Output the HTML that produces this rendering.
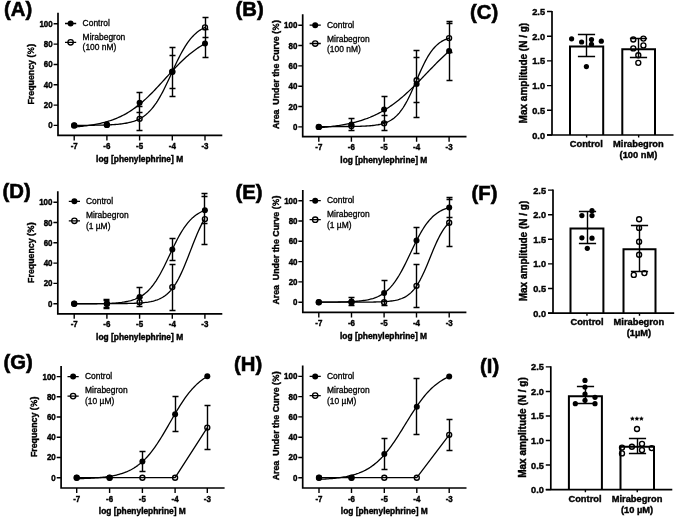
<!DOCTYPE html>
<html><head><meta charset="utf-8"><style>
html,body{margin:0;padding:0;background:#fff;}
body{width:676px;height:518px;overflow:hidden;}
svg{display:block;will-change:transform;}
text{font-family:"Liberation Sans", sans-serif;fill:#000;font-weight:bold;stroke:#000;stroke-width:0.4px;}
.pl{font-size:20.3px;}
.tl{font-size:8.4px;}
.tlb{font-size:9.2px;}
.al{font-size:8.4px;}
.aly{font-size:8.8px;}
.alb{font-size:10.0px;}
.bl{font-size:9.3px;}
.lt{font-size:8.45px;}
.st{font-size:8.0px;}
.lt{font-weight:normal;stroke-width:0.3px;}
.pl{stroke-width:0.6px;}
.pc{fill-opacity:0;stroke-opacity:0;}
.ax{fill:none;stroke:#000;stroke-width:1.7;}
.tk{fill:none;stroke:#000;stroke-width:1.4;}
.cv{fill:none;stroke:#000;stroke-width:1.3;stroke-linejoin:round;}
.eb{fill:none;stroke:#000;stroke-width:1.4;}
.lg{fill:none;stroke:#000;stroke-width:1.3;}
.bar{fill:none;stroke:#000;stroke-width:2.0;}
.cf{fill:#000;stroke:none;}
.co{fill:none;stroke:#000;stroke-width:1.35;}
</style></head><body>
<svg width="676" height="518" viewBox="0 0 676 518">
<rect width="676" height="518" fill="#fff"/>
<text transform="translate(4.00 15.70)" class="pl">(A)</text>
<path d="M58.0 12.8V135.4M57.15 135.4H222.3" class="ax"/>
<text transform="translate(52.70 128.40) scale(0.95 1.0)" class="tl" text-anchor="end">0</text>
<text transform="translate(52.70 108.08) scale(0.95 1.0)" class="tl" text-anchor="end">20</text>
<text transform="translate(52.70 87.76) scale(0.95 1.0)" class="tl" text-anchor="end">40</text>
<text transform="translate(52.70 67.44) scale(0.95 1.0)" class="tl" text-anchor="end">60</text>
<text transform="translate(52.70 47.12) scale(0.95 1.0)" class="tl" text-anchor="end">80</text>
<text transform="translate(52.70 26.80) scale(0.95 1.0)" class="tl" text-anchor="end">100</text>
<text transform="translate(74.20 149.00) scale(0.95 1.0)" class="tl" text-anchor="middle">-7</text>
<text transform="translate(106.90 149.00) scale(0.95 1.0)" class="tl" text-anchor="middle">-6</text>
<text transform="translate(139.60 149.00) scale(0.95 1.0)" class="tl" text-anchor="middle">-5</text>
<text transform="translate(172.30 149.00) scale(0.95 1.0)" class="tl" text-anchor="middle">-4</text>
<text transform="translate(205.00 149.00) scale(0.95 1.0)" class="tl" text-anchor="middle">-3</text>
<path d="M53.60 125.40H58.0 M53.60 105.08H58.0 M53.60 84.76H58.0 M53.60 64.44H58.0 M53.60 44.12H58.0 M53.60 23.80H58.0 M74.20 135.4V140.40 M106.90 135.4V140.40 M139.60 135.4V140.40 M172.30 135.4V140.40 M205.00 135.4V140.40" class="tk"/>
<text transform="translate(96.10 161.50)" class="al">log [phenylephrine] M</text>
<text transform="translate(33.90 74.20) rotate(-90)" class="aly" text-anchor="middle">Frequency (<tspan class="pc">%</tspan>)</text>
<g transform="translate(33.90 74.20) rotate(-90)" fill="none" stroke="#000" stroke-width="1.10"><ellipse cx="21.63" cy="-4.62" rx="1.14" ry="1.41"/><ellipse cx="25.33" cy="-1.54" rx="1.14" ry="1.41"/><path d="M21.06 0.09L25.90 -6.16"/></g>
<path d="M65.0 23.5H76.19999999999999M65.0 42.3H76.19999999999999" class="lg"/>
<circle cx="70.6" cy="23.5" r="3.0" class="cf"/>
<circle cx="70.6" cy="42.3" r="2.7" class="co"/>
<text transform="translate(82.60 26.10)" class="lt">Control</text>
<text transform="translate(82.60 39.90)" class="lt">Mirabegron</text>
<text transform="translate(82.60 50.00)" class="lt">(100 nM)</text>
<path d="M74.20 125.36 L75.52 125.35 L76.84 125.35 L78.16 125.35 L79.48 125.34 L80.81 125.34 L82.13 125.33 L83.45 125.32 L84.77 125.32 L86.09 125.31 L87.41 125.30 L88.73 125.29 L90.05 125.28 L91.38 125.26 L92.70 125.25 L94.02 125.23 L95.34 125.22 L96.66 125.20 L97.98 125.18 L99.30 125.15 L100.62 125.12 L101.95 125.09 L103.27 125.06 L104.59 125.02 L105.91 124.98 L107.23 124.93 L108.55 124.88 L109.87 124.82 L111.19 124.75 L112.52 124.67 L113.84 124.59 L115.16 124.50 L116.48 124.39 L117.80 124.28 L119.12 124.15 L120.44 124.01 L121.76 123.85 L123.08 123.67 L124.41 123.47 L125.73 123.25 L127.05 123.00 L128.37 122.73 L129.69 122.42 L131.01 122.08 L132.33 121.71 L133.65 121.29 L134.98 120.83 L136.30 120.32 L137.62 119.75 L138.94 119.13 L140.26 118.44 L141.58 117.68 L142.90 116.84 L144.22 115.93 L145.55 114.92 L146.87 113.83 L148.19 112.63 L149.51 111.33 L150.83 109.92 L152.15 108.39 L153.47 106.74 L154.79 104.98 L156.12 103.08 L157.44 101.07 L158.76 98.93 L160.08 96.67 L161.40 94.30 L162.72 91.82 L164.04 89.23 L165.36 86.56 L166.68 83.82 L168.01 81.01 L169.33 78.15 L170.65 75.27 L171.97 72.38 L173.29 69.49 L174.61 66.63 L175.93 63.81 L177.25 61.04 L178.58 58.35 L179.90 55.75 L181.22 53.24 L182.54 50.84 L183.86 48.56 L185.18 46.39 L186.50 44.35 L187.82 42.42 L189.15 40.63 L190.47 38.95 L191.79 37.40 L193.11 35.96 L194.43 34.63 L195.75 33.41 L197.07 32.29 L198.39 31.27 L199.72 30.33 L201.04 29.48 L202.36 28.70 L203.68 28.00 L205.00 27.36" class="cv"/>
<path d="M74.20 126.99 L75.52 126.89 L76.84 126.78 L78.16 126.66 L79.48 126.54 L80.81 126.41 L82.13 126.27 L83.45 126.12 L84.77 125.97 L86.09 125.81 L87.41 125.64 L88.73 125.45 L90.05 125.26 L91.38 125.06 L92.70 124.85 L94.02 124.62 L95.34 124.38 L96.66 124.13 L97.98 123.87 L99.30 123.59 L100.62 123.29 L101.95 122.98 L103.27 122.66 L104.59 122.31 L105.91 121.95 L107.23 121.57 L108.55 121.17 L109.87 120.75 L111.19 120.31 L112.52 119.85 L113.84 119.36 L115.16 118.85 L116.48 118.32 L117.80 117.76 L119.12 117.17 L120.44 116.56 L121.76 115.92 L123.08 115.25 L124.41 114.55 L125.73 113.83 L127.05 113.07 L128.37 112.28 L129.69 111.46 L131.01 110.61 L132.33 109.73 L133.65 108.81 L134.98 107.86 L136.30 106.88 L137.62 105.86 L138.94 104.82 L140.26 103.74 L141.58 102.63 L142.90 101.48 L144.22 100.31 L145.55 99.11 L146.87 97.87 L148.19 96.61 L149.51 95.33 L150.83 94.02 L152.15 92.68 L153.47 91.33 L154.79 89.95 L156.12 88.56 L157.44 87.15 L158.76 85.72 L160.08 84.29 L161.40 82.85 L162.72 81.40 L164.04 79.94 L165.36 78.49 L166.68 77.03 L168.01 75.58 L169.33 74.14 L170.65 72.70 L171.97 71.27 L173.29 69.86 L174.61 68.46 L175.93 67.08 L177.25 65.71 L178.58 64.37 L179.90 63.05 L181.22 61.76 L182.54 60.49 L183.86 59.25 L185.18 58.04 L186.50 56.85 L187.82 55.70 L189.15 54.58 L190.47 53.49 L191.79 52.43 L193.11 51.40 L194.43 50.41 L195.75 49.45 L197.07 48.52 L198.39 47.63 L199.72 46.77 L201.04 45.94 L202.36 45.14 L203.68 44.37 L205.00 43.63" class="cv"/>
<path d="M139.50 106.50V130.50M136.50 106.50H142.50M136.50 130.50H142.50 M172.50 55.50V88.50M169.50 55.50H175.50M169.50 88.50H175.50 M205.50 17.50V37.50M202.50 17.50H208.50M202.50 37.50H208.50 M139.50 92.50V112.50M136.50 92.50H142.50M136.50 112.50H142.50 M172.50 47.50V96.50M169.50 47.50H175.50M169.50 96.50H175.50 M205.50 29.50V57.50M202.50 29.50H208.50M202.50 57.50H208.50" class="eb"/>
<circle cx="74.20" cy="125.40" r="2.5" class="co"/>
<circle cx="106.90" cy="124.89" r="2.5" class="co"/>
<circle cx="139.60" cy="118.80" r="2.5" class="co"/>
<circle cx="172.30" cy="71.65" r="2.5" class="co"/>
<circle cx="205.00" cy="27.36" r="2.5" class="co"/>
<circle cx="74.20" cy="125.40" r="3.0" class="cf"/>
<circle cx="106.90" cy="124.38" r="3.0" class="cf"/>
<circle cx="139.60" cy="102.64" r="3.0" class="cf"/>
<circle cx="172.30" cy="71.65" r="3.0" class="cf"/>
<circle cx="205.00" cy="43.41" r="3.0" class="cf"/>
<text transform="translate(235.50 16.00)" class="pl">(B)</text>
<path d="M302.7 14.2V136.7M301.84999999999997 136.7H466.5" class="ax"/>
<text transform="translate(297.40 129.90) scale(0.95 1.0)" class="tl" text-anchor="end">0</text>
<text transform="translate(297.40 109.56) scale(0.95 1.0)" class="tl" text-anchor="end">20</text>
<text transform="translate(297.40 89.22) scale(0.95 1.0)" class="tl" text-anchor="end">40</text>
<text transform="translate(297.40 68.88) scale(0.95 1.0)" class="tl" text-anchor="end">60</text>
<text transform="translate(297.40 48.54) scale(0.95 1.0)" class="tl" text-anchor="end">80</text>
<text transform="translate(297.40 28.20) scale(0.95 1.0)" class="tl" text-anchor="end">100</text>
<text transform="translate(318.80 150.30) scale(0.95 1.0)" class="tl" text-anchor="middle">-7</text>
<text transform="translate(351.40 150.30) scale(0.95 1.0)" class="tl" text-anchor="middle">-6</text>
<text transform="translate(384.10 150.30) scale(0.95 1.0)" class="tl" text-anchor="middle">-5</text>
<text transform="translate(416.60 150.30) scale(0.95 1.0)" class="tl" text-anchor="middle">-4</text>
<text transform="translate(449.10 150.30) scale(0.95 1.0)" class="tl" text-anchor="middle">-3</text>
<path d="M298.30 126.90H302.7 M298.30 106.56H302.7 M298.30 86.22H302.7 M298.30 65.88H302.7 M298.30 45.54H302.7 M298.30 25.20H302.7 M318.80 136.7V141.70 M351.40 136.7V141.70 M384.10 136.7V141.70 M416.60 136.7V141.70 M449.10 136.7V141.70" class="tk"/>
<text transform="translate(340.30 163.00)" class="al">log [phenylephrine] M</text>
<text transform="translate(278.90 74.60) rotate(-90)" class="aly" text-anchor="middle">Area  Under the Curve (<tspan class="pc">%</tspan>)</text>
<g transform="translate(278.90 74.60) rotate(-90)" fill="none" stroke="#000" stroke-width="1.10"><ellipse cx="45.84" cy="-4.62" rx="1.14" ry="1.41"/><ellipse cx="49.53" cy="-1.54" rx="1.14" ry="1.41"/><path d="M45.26 0.09L50.10 -6.16"/></g>
<path d="M309.59999999999997 25.2H320.8M309.59999999999997 43.5H320.8" class="lg"/>
<circle cx="315.2" cy="25.2" r="3.0" class="cf"/>
<circle cx="315.2" cy="43.5" r="2.7" class="co"/>
<text transform="translate(327.00 28.00)" class="lt">Control</text>
<text transform="translate(327.00 41.60)" class="lt">Mirabegron</text>
<text transform="translate(327.00 51.80)" class="lt">(100 nM)</text>
<path d="M318.84 126.56 L320.16 126.56 L321.47 126.56 L322.79 126.56 L324.11 126.56 L325.42 126.56 L326.74 126.56 L328.05 126.56 L329.37 126.56 L330.69 126.55 L332.00 126.55 L333.32 126.55 L334.64 126.55 L335.95 126.54 L337.27 126.54 L338.59 126.54 L339.90 126.53 L341.22 126.53 L342.53 126.52 L343.85 126.51 L345.17 126.50 L346.48 126.50 L347.80 126.48 L349.12 126.47 L350.43 126.46 L351.75 126.44 L353.07 126.43 L354.38 126.40 L355.70 126.38 L357.01 126.35 L358.33 126.32 L359.65 126.29 L360.96 126.25 L362.28 126.20 L363.60 126.15 L364.91 126.09 L366.23 126.02 L367.55 125.94 L368.86 125.85 L370.18 125.75 L371.49 125.64 L372.81 125.50 L374.13 125.35 L375.44 125.18 L376.76 124.98 L378.08 124.76 L379.39 124.51 L380.71 124.22 L382.03 123.89 L383.34 123.52 L384.66 123.10 L385.97 122.62 L387.29 122.08 L388.61 121.47 L389.92 120.78 L391.24 120.01 L392.56 119.14 L393.87 118.17 L395.19 117.09 L396.51 115.88 L397.82 114.55 L399.14 113.08 L400.45 111.46 L401.77 109.68 L403.09 107.75 L404.40 105.67 L405.72 103.42 L407.04 101.02 L408.35 98.47 L409.67 95.79 L410.99 92.99 L412.30 90.09 L413.62 87.10 L414.93 84.06 L416.25 80.99 L417.57 77.92 L418.88 74.87 L420.20 71.88 L421.52 68.96 L422.83 66.15 L424.15 63.45 L425.47 60.88 L426.78 58.46 L428.10 56.20 L429.41 54.09 L430.73 52.14 L432.05 50.35 L433.36 48.71 L434.68 47.22 L436.00 45.86 L437.31 44.64 L438.63 43.54 L439.95 42.56 L441.26 41.68 L442.58 40.90 L443.89 40.20 L445.21 39.58 L446.53 39.03 L447.84 38.54 L449.16 38.12" class="cv"/>
<path d="M318.84 127.68 L320.16 127.58 L321.47 127.48 L322.79 127.36 L324.11 127.25 L325.42 127.12 L326.74 126.99 L328.05 126.86 L329.37 126.72 L330.69 126.57 L332.00 126.42 L333.32 126.26 L334.64 126.09 L335.95 125.91 L337.27 125.72 L338.59 125.53 L339.90 125.33 L341.22 125.12 L342.53 124.89 L343.85 124.66 L345.17 124.42 L346.48 124.17 L347.80 123.90 L349.12 123.63 L350.43 123.34 L351.75 123.04 L353.07 122.73 L354.38 122.40 L355.70 122.06 L357.01 121.70 L358.33 121.33 L359.65 120.94 L360.96 120.54 L362.28 120.12 L363.60 119.68 L364.91 119.23 L366.23 118.76 L367.55 118.27 L368.86 117.76 L370.18 117.23 L371.49 116.67 L372.81 116.10 L374.13 115.51 L375.44 114.89 L376.76 114.26 L378.08 113.60 L379.39 112.91 L380.71 112.21 L382.03 111.48 L383.34 110.72 L384.66 109.94 L385.97 109.13 L387.29 108.30 L388.61 107.45 L389.92 106.57 L391.24 105.66 L392.56 104.73 L393.87 103.77 L395.19 102.79 L396.51 101.78 L397.82 100.75 L399.14 99.69 L400.45 98.61 L401.77 97.50 L403.09 96.37 L404.40 95.22 L405.72 94.05 L407.04 92.85 L408.35 91.64 L409.67 90.40 L410.99 89.15 L412.30 87.88 L413.62 86.60 L414.93 85.30 L416.25 83.98 L417.57 82.66 L418.88 81.32 L420.20 79.97 L421.52 78.62 L422.83 77.26 L424.15 75.89 L425.47 74.52 L426.78 73.15 L428.10 71.78 L429.41 70.41 L430.73 69.05 L432.05 67.69 L433.36 66.34 L434.68 64.99 L436.00 63.65 L437.31 62.33 L438.63 61.01 L439.95 59.72 L441.26 58.43 L442.58 57.16 L443.89 55.91 L445.21 54.68 L446.53 53.46 L447.84 52.27 L449.16 51.10" class="cv"/>
<path d="M384.50 115.50V130.50M381.50 115.50H387.50M381.50 130.50H387.50 M416.50 57.50V102.50M413.50 57.50H419.50M413.50 102.50H419.50 M449.50 23.50V52.50M446.50 23.50H452.50M446.50 52.50H452.50 M351.50 118.50V130.50M348.50 118.50H354.50M348.50 130.50H354.50 M384.50 96.50V122.50M381.50 96.50H387.50M381.50 122.50H387.50 M416.50 50.50V117.50M413.50 50.50H419.50M413.50 117.50H419.50 M449.50 21.50V80.50M446.50 21.50H452.50M446.50 80.50H452.50" class="eb"/>
<circle cx="318.80" cy="126.90" r="2.5" class="co"/>
<circle cx="351.40" cy="126.09" r="2.5" class="co"/>
<circle cx="384.10" cy="123.34" r="2.5" class="co"/>
<circle cx="416.60" cy="80.22" r="2.5" class="co"/>
<circle cx="449.10" cy="38.12" r="2.5" class="co"/>
<circle cx="318.80" cy="126.90" r="3.0" class="cf"/>
<circle cx="351.40" cy="124.56" r="3.0" class="cf"/>
<circle cx="384.10" cy="109.41" r="3.0" class="cf"/>
<circle cx="416.60" cy="83.98" r="3.0" class="cf"/>
<circle cx="449.10" cy="51.03" r="3.0" class="cf"/>
<text transform="translate(2.50 197.50)" class="pl">(D)</text>
<path d="M57.8 191.3V313.8M56.949999999999996 313.8H222.3" class="ax"/>
<text transform="translate(52.50 306.70) scale(0.95 1.0)" class="tl" text-anchor="end">0</text>
<text transform="translate(52.50 286.40) scale(0.95 1.0)" class="tl" text-anchor="end">20</text>
<text transform="translate(52.50 266.10) scale(0.95 1.0)" class="tl" text-anchor="end">40</text>
<text transform="translate(52.50 245.80) scale(0.95 1.0)" class="tl" text-anchor="end">60</text>
<text transform="translate(52.50 225.50) scale(0.95 1.0)" class="tl" text-anchor="end">80</text>
<text transform="translate(52.50 205.20) scale(0.95 1.0)" class="tl" text-anchor="end">100</text>
<text transform="translate(74.20 327.40) scale(0.95 1.0)" class="tl" text-anchor="middle">-7</text>
<text transform="translate(106.90 327.40) scale(0.95 1.0)" class="tl" text-anchor="middle">-6</text>
<text transform="translate(139.60 327.40) scale(0.95 1.0)" class="tl" text-anchor="middle">-5</text>
<text transform="translate(172.30 327.40) scale(0.95 1.0)" class="tl" text-anchor="middle">-4</text>
<text transform="translate(204.90 327.40) scale(0.95 1.0)" class="tl" text-anchor="middle">-3</text>
<path d="M53.40 303.70H57.8 M53.40 283.40H57.8 M53.40 263.10H57.8 M53.40 242.80H57.8 M53.40 222.50H57.8 M53.40 202.20H57.8 M74.20 313.8V318.80 M106.90 313.8V318.80 M139.60 313.8V318.80 M172.30 313.8V318.80 M204.90 313.8V318.80" class="tk"/>
<text transform="translate(96.10 339.80)" class="al">log [phenylephrine] M</text>
<text transform="translate(33.90 252.60) rotate(-90)" class="aly" text-anchor="middle">Frequency (<tspan class="pc">%</tspan>)</text>
<g transform="translate(33.90 252.60) rotate(-90)" fill="none" stroke="#000" stroke-width="1.10"><ellipse cx="21.63" cy="-4.62" rx="1.14" ry="1.41"/><ellipse cx="25.33" cy="-1.54" rx="1.14" ry="1.41"/><path d="M21.06 0.09L25.90 -6.16"/></g>
<path d="M68.80000000000001 201.3H80.0M68.80000000000001 220.8H80.0" class="lg"/>
<circle cx="74.4" cy="201.3" r="3.0" class="cf"/>
<circle cx="74.4" cy="220.8" r="2.7" class="co"/>
<text transform="translate(85.90 204.00)" class="lt">Control</text>
<text transform="translate(85.90 217.90)" class="lt">Mirabegron</text>
<text transform="translate(85.90 229.00)" class="lt">(1 µM)</text>
<path d="M74.22 303.70 L75.54 303.70 L76.86 303.70 L78.18 303.70 L79.50 303.70 L80.82 303.70 L82.14 303.70 L83.46 303.70 L84.78 303.70 L86.10 303.70 L87.42 303.70 L88.74 303.70 L90.06 303.69 L91.39 303.69 L92.71 303.69 L94.03 303.69 L95.35 303.69 L96.67 303.69 L97.99 303.69 L99.31 303.69 L100.63 303.68 L101.95 303.68 L103.27 303.68 L104.59 303.68 L105.91 303.67 L107.23 303.67 L108.55 303.67 L109.87 303.66 L111.19 303.66 L112.51 303.65 L113.83 303.64 L115.15 303.64 L116.47 303.63 L117.79 303.62 L119.11 303.61 L120.43 303.59 L121.75 303.58 L123.07 303.56 L124.40 303.54 L125.72 303.52 L127.04 303.50 L128.36 303.47 L129.68 303.44 L131.00 303.40 L132.32 303.36 L133.64 303.31 L134.96 303.26 L136.28 303.20 L137.60 303.13 L138.92 303.05 L140.24 302.96 L141.56 302.85 L142.88 302.74 L144.20 302.60 L145.52 302.45 L146.84 302.28 L148.16 302.09 L149.48 301.87 L150.80 301.62 L152.12 301.33 L153.44 301.01 L154.76 300.65 L156.09 300.24 L157.41 299.78 L158.73 299.25 L160.05 298.66 L161.37 298.00 L162.69 297.26 L164.01 296.42 L165.33 295.49 L166.65 294.45 L167.97 293.29 L169.29 292.00 L170.61 290.57 L171.93 289.00 L173.25 287.28 L174.57 285.39 L175.89 283.33 L177.21 281.10 L178.53 278.71 L179.85 276.14 L181.17 273.40 L182.49 270.51 L183.81 267.48 L185.13 264.32 L186.45 261.06 L187.77 257.71 L189.10 254.31 L190.42 250.87 L191.74 247.44 L193.06 244.04 L194.38 240.69 L195.70 237.43 L197.02 234.27 L198.34 231.25 L199.66 228.36 L200.98 225.63 L202.30 223.07 L203.62 220.67 L204.94 218.45" class="cv"/>
<path d="M74.22 303.89 L75.54 303.89 L76.86 303.88 L78.18 303.88 L79.50 303.88 L80.82 303.87 L82.14 303.87 L83.46 303.86 L84.78 303.85 L86.10 303.84 L87.42 303.84 L88.74 303.83 L90.06 303.82 L91.39 303.80 L92.71 303.79 L94.03 303.77 L95.35 303.76 L96.67 303.74 L97.99 303.72 L99.31 303.69 L100.63 303.66 L101.95 303.63 L103.27 303.60 L104.59 303.56 L105.91 303.52 L107.23 303.47 L108.55 303.42 L109.87 303.36 L111.19 303.29 L112.51 303.22 L113.83 303.13 L115.15 303.04 L116.47 302.93 L117.79 302.82 L119.11 302.69 L120.43 302.54 L121.75 302.38 L123.07 302.19 L124.40 301.99 L125.72 301.76 L127.04 301.51 L128.36 301.22 L129.68 300.91 L131.00 300.56 L132.32 300.17 L133.64 299.74 L134.96 299.26 L136.28 298.72 L137.60 298.13 L138.92 297.48 L140.24 296.76 L141.56 295.97 L142.88 295.10 L144.20 294.14 L145.52 293.09 L146.84 291.94 L148.16 290.69 L149.48 289.33 L150.80 287.86 L152.12 286.27 L153.44 284.56 L154.76 282.73 L156.09 280.78 L157.41 278.70 L158.73 276.51 L160.05 274.21 L161.37 271.79 L162.69 269.29 L164.01 266.69 L165.33 264.03 L166.65 261.31 L167.97 258.54 L169.29 255.76 L170.61 252.97 L171.93 250.19 L173.25 247.44 L174.57 244.73 L175.89 242.09 L177.21 239.53 L178.53 237.06 L179.85 234.69 L181.17 232.42 L182.49 230.27 L183.81 228.24 L185.13 226.34 L186.45 224.55 L187.77 222.89 L189.10 221.34 L190.42 219.91 L191.74 218.59 L193.06 217.38 L194.38 216.27 L195.70 215.26 L197.02 214.33 L198.34 213.49 L199.66 212.72 L200.98 212.03 L202.30 211.40 L203.62 210.83 L204.94 210.32" class="cv"/>
<path d="M106.50 300.50V307.50M103.50 300.50H109.50M103.50 307.50H109.50 M139.50 297.50V306.50M136.50 297.50H142.50M136.50 306.50H142.50 M172.50 264.50V310.50M169.50 264.50H175.50M169.50 310.50H175.50 M204.50 193.50V244.50M201.50 193.50H207.50M201.50 244.50H207.50 M106.50 299.50V308.50M103.50 299.50H109.50M103.50 308.50H109.50 M139.50 287.50V306.50M136.50 287.50H142.50M136.50 306.50H142.50 M172.50 238.50V260.50M169.50 238.50H175.50M169.50 260.50H175.50 M204.50 196.50V223.50M201.50 196.50H207.50M201.50 223.50H207.50" class="eb"/>
<circle cx="74.20" cy="303.70" r="2.5" class="co"/>
<circle cx="106.90" cy="303.70" r="2.5" class="co"/>
<circle cx="139.60" cy="302.18" r="2.5" class="co"/>
<circle cx="172.30" cy="287.05" r="2.5" class="co"/>
<circle cx="204.90" cy="219.05" r="2.5" class="co"/>
<circle cx="74.20" cy="303.70" r="3.0" class="cf"/>
<circle cx="106.90" cy="303.70" r="3.0" class="cf"/>
<circle cx="139.60" cy="297.10" r="3.0" class="cf"/>
<circle cx="172.30" cy="249.50" r="3.0" class="cf"/>
<circle cx="204.90" cy="210.32" r="3.0" class="cf"/>
<text transform="translate(235.50 199.00)" class="pl">(E)</text>
<path d="M302.8 190.1V312.4M301.95 312.4H466.4" class="ax"/>
<text transform="translate(297.50 305.20) scale(0.95 1.0)" class="tl" text-anchor="end">0</text>
<text transform="translate(297.50 284.90) scale(0.95 1.0)" class="tl" text-anchor="end">20</text>
<text transform="translate(297.50 264.60) scale(0.95 1.0)" class="tl" text-anchor="end">40</text>
<text transform="translate(297.50 244.30) scale(0.95 1.0)" class="tl" text-anchor="end">60</text>
<text transform="translate(297.50 224.00) scale(0.95 1.0)" class="tl" text-anchor="end">80</text>
<text transform="translate(297.50 203.70) scale(0.95 1.0)" class="tl" text-anchor="end">100</text>
<text transform="translate(318.80 326.00) scale(0.95 1.0)" class="tl" text-anchor="middle">-7</text>
<text transform="translate(351.50 326.00) scale(0.95 1.0)" class="tl" text-anchor="middle">-6</text>
<text transform="translate(384.10 326.00) scale(0.95 1.0)" class="tl" text-anchor="middle">-5</text>
<text transform="translate(416.50 326.00) scale(0.95 1.0)" class="tl" text-anchor="middle">-4</text>
<text transform="translate(449.20 326.00) scale(0.95 1.0)" class="tl" text-anchor="middle">-3</text>
<path d="M298.40 302.20H302.8 M298.40 281.90H302.8 M298.40 261.60H302.8 M298.40 241.30H302.8 M298.40 221.00H302.8 M298.40 200.70H302.8 M318.80 312.4V317.40 M351.50 312.4V317.40 M384.10 312.4V317.40 M416.50 312.4V317.40 M449.20 312.4V317.40" class="tk"/>
<text transform="translate(340.00 339.30)" class="al">log [phenylephrine] M</text>
<text transform="translate(278.90 250.10) rotate(-90)" class="aly" text-anchor="middle">Area  Under the Curve (<tspan class="pc">%</tspan>)</text>
<g transform="translate(278.90 250.10) rotate(-90)" fill="none" stroke="#000" stroke-width="1.10"><ellipse cx="45.84" cy="-4.62" rx="1.14" ry="1.41"/><ellipse cx="49.53" cy="-1.54" rx="1.14" ry="1.41"/><path d="M45.26 0.09L50.10 -6.16"/></g>
<path d="M309.59999999999997 200.7H320.8M309.59999999999997 219.7H320.8" class="lg"/>
<circle cx="315.2" cy="200.7" r="3.0" class="cf"/>
<circle cx="315.2" cy="219.7" r="2.7" class="co"/>
<text transform="translate(327.00 203.40)" class="lt">Control</text>
<text transform="translate(327.00 217.30)" class="lt">Mirabegron</text>
<text transform="translate(327.00 228.20)" class="lt">(1 µM)</text>
<path d="M318.86 302.20 L320.18 302.20 L321.49 302.20 L322.81 302.20 L324.13 302.20 L325.44 302.20 L326.76 302.20 L328.07 302.20 L329.39 302.20 L330.71 302.20 L332.02 302.20 L333.34 302.20 L334.66 302.20 L335.97 302.20 L337.29 302.20 L338.61 302.20 L339.92 302.20 L341.24 302.20 L342.55 302.19 L343.87 302.19 L345.19 302.19 L346.50 302.19 L347.82 302.19 L349.14 302.19 L350.45 302.19 L351.77 302.18 L353.09 302.18 L354.40 302.18 L355.72 302.18 L357.03 302.17 L358.35 302.17 L359.67 302.16 L360.98 302.16 L362.30 302.15 L363.62 302.14 L364.93 302.14 L366.25 302.13 L367.57 302.11 L368.88 302.10 L370.20 302.08 L371.51 302.07 L372.83 302.04 L374.15 302.02 L375.46 301.99 L376.78 301.96 L378.10 301.92 L379.41 301.88 L380.73 301.83 L382.05 301.77 L383.36 301.70 L384.68 301.62 L385.99 301.53 L387.31 301.43 L388.63 301.31 L389.94 301.17 L391.26 301.01 L392.58 300.83 L393.89 300.62 L395.21 300.38 L396.53 300.09 L397.84 299.77 L399.16 299.40 L400.47 298.98 L401.79 298.49 L403.11 297.94 L404.42 297.31 L405.74 296.58 L407.06 295.76 L408.37 294.84 L409.69 293.79 L411.01 292.61 L412.32 291.28 L413.64 289.81 L414.95 288.16 L416.27 286.35 L417.59 284.36 L418.90 282.18 L420.22 279.82 L421.54 277.29 L422.85 274.59 L424.17 271.73 L425.49 268.74 L426.80 265.64 L428.12 262.46 L429.43 259.23 L430.75 255.98 L432.07 252.75 L433.38 249.57 L434.70 246.47 L436.02 243.49 L437.33 240.64 L438.65 237.95 L439.97 235.42 L441.28 233.08 L442.60 230.91 L443.91 228.93 L445.23 227.12 L446.55 225.49 L447.86 224.02 L449.18 222.71" class="cv"/>
<path d="M318.86 302.18 L320.18 302.18 L321.49 302.17 L322.81 302.17 L324.13 302.16 L325.44 302.15 L326.76 302.15 L328.07 302.14 L329.39 302.13 L330.71 302.12 L332.02 302.10 L333.34 302.09 L334.66 302.08 L335.97 302.06 L337.29 302.04 L338.61 302.02 L339.92 301.99 L341.24 301.97 L342.55 301.94 L343.87 301.90 L345.19 301.86 L346.50 301.82 L347.82 301.77 L349.14 301.72 L350.45 301.66 L351.77 301.59 L353.09 301.52 L354.40 301.44 L355.72 301.34 L357.03 301.24 L358.35 301.12 L359.67 300.99 L360.98 300.85 L362.30 300.68 L363.62 300.50 L364.93 300.30 L366.25 300.08 L367.57 299.83 L368.88 299.55 L370.20 299.24 L371.51 298.89 L372.83 298.51 L374.15 298.08 L375.46 297.61 L376.78 297.08 L378.10 296.51 L379.41 295.86 L380.73 295.16 L382.05 294.38 L383.36 293.52 L384.68 292.58 L385.99 291.55 L387.31 290.43 L388.63 289.20 L389.94 287.87 L391.26 286.42 L392.58 284.86 L393.89 283.19 L395.21 281.39 L396.53 279.47 L397.84 277.43 L399.16 275.28 L400.47 273.01 L401.79 270.64 L403.11 268.16 L404.42 265.60 L405.74 262.97 L407.06 260.28 L408.37 257.54 L409.69 254.77 L411.01 252.00 L412.32 249.23 L413.64 246.48 L414.95 243.78 L416.27 241.14 L417.59 238.57 L418.90 236.08 L420.22 233.69 L421.54 231.40 L422.85 229.23 L424.17 227.17 L425.49 225.24 L426.80 223.42 L428.12 221.73 L429.43 220.15 L430.75 218.69 L432.07 217.34 L433.38 216.09 L434.70 214.95 L436.02 213.91 L437.33 212.95 L438.65 212.09 L439.97 211.29 L441.28 210.58 L442.60 209.93 L443.91 209.34 L445.23 208.80 L446.55 208.32 L447.86 207.89 L449.18 207.50" class="cv"/>
<path d="M416.50 264.50V307.50M413.50 264.50H419.50M413.50 307.50H419.50 M449.50 199.50V246.50M446.50 199.50H452.50M446.50 246.50H452.50 M351.50 297.50V305.50M348.50 297.50H354.50M348.50 305.50H354.50 M384.50 280.50V305.50M381.50 280.50H387.50M381.50 305.50H387.50 M416.50 227.50V253.50M413.50 227.50H419.50M413.50 253.50H419.50 M449.50 197.50V217.50M446.50 197.50H452.50M446.50 217.50H452.50" class="eb"/>
<circle cx="318.80" cy="302.20" r="2.5" class="co"/>
<circle cx="351.50" cy="302.20" r="2.5" class="co"/>
<circle cx="384.10" cy="302.20" r="2.5" class="co"/>
<circle cx="416.50" cy="285.86" r="2.5" class="co"/>
<circle cx="449.20" cy="222.73" r="2.5" class="co"/>
<circle cx="318.80" cy="302.20" r="3.0" class="cf"/>
<circle cx="351.50" cy="301.59" r="3.0" class="cf"/>
<circle cx="384.10" cy="293.06" r="3.0" class="cf"/>
<circle cx="416.50" cy="240.49" r="3.0" class="cf"/>
<circle cx="449.20" cy="207.50" r="3.0" class="cf"/>
<text transform="translate(3.50 369.00)" class="pl">(G)</text>
<path d="M61.1 365.9V488.0M60.25 488.0H224.6" class="ax"/>
<text transform="translate(55.80 480.70) scale(0.95 1.0)" class="tl" text-anchor="end">0</text>
<text transform="translate(55.80 460.48) scale(0.95 1.0)" class="tl" text-anchor="end">20</text>
<text transform="translate(55.80 440.26) scale(0.95 1.0)" class="tl" text-anchor="end">40</text>
<text transform="translate(55.80 420.04) scale(0.95 1.0)" class="tl" text-anchor="end">60</text>
<text transform="translate(55.80 399.82) scale(0.95 1.0)" class="tl" text-anchor="end">80</text>
<text transform="translate(55.80 379.60) scale(0.95 1.0)" class="tl" text-anchor="end">100</text>
<text transform="translate(76.70 501.60) scale(0.95 1.0)" class="tl" text-anchor="middle">-7</text>
<text transform="translate(109.60 501.60) scale(0.95 1.0)" class="tl" text-anchor="middle">-6</text>
<text transform="translate(142.40 501.60) scale(0.95 1.0)" class="tl" text-anchor="middle">-5</text>
<text transform="translate(175.10 501.60) scale(0.95 1.0)" class="tl" text-anchor="middle">-4</text>
<text transform="translate(207.30 501.60) scale(0.95 1.0)" class="tl" text-anchor="middle">-3</text>
<path d="M56.70 477.70H61.1 M56.70 457.48H61.1 M56.70 437.26H61.1 M56.70 417.04H61.1 M56.70 396.82H61.1 M56.70 376.60H61.1 M76.70 488.0V493.00 M109.60 488.0V493.00 M142.40 488.0V493.00 M175.10 488.0V493.00 M207.30 488.0V493.00" class="tk"/>
<text transform="translate(98.80 514.20)" class="al">log [phenylephrine] M</text>
<text transform="translate(37.00 426.80) rotate(-90)" class="aly" text-anchor="middle">Frequency (<tspan class="pc">%</tspan>)</text>
<g transform="translate(37.00 426.80) rotate(-90)" fill="none" stroke="#000" stroke-width="1.10"><ellipse cx="21.63" cy="-4.62" rx="1.14" ry="1.41"/><ellipse cx="25.33" cy="-1.54" rx="1.14" ry="1.41"/><path d="M21.06 0.09L25.90 -6.16"/></g>
<path d="M67.5 376.6H78.69999999999999M67.5 396.1H78.69999999999999" class="lg"/>
<circle cx="73.1" cy="376.6" r="3.0" class="cf"/>
<circle cx="73.1" cy="396.1" r="2.7" class="co"/>
<text transform="translate(85.00 379.30)" class="lt">Control</text>
<text transform="translate(85.00 392.90)" class="lt">Mirabegron</text>
<text transform="translate(85.00 404.00)" class="lt">(10 µM)</text>
<path d="M76.70 477.70 L109.60 477.70 L142.40 477.70 L175.10 477.70 L207.30 427.55" class="cv"/>
<path d="M76.88 478.67 L78.20 478.64 L79.52 478.61 L80.84 478.57 L82.16 478.54 L83.48 478.49 L84.80 478.45 L86.12 478.40 L87.44 478.35 L88.76 478.29 L90.08 478.23 L91.40 478.16 L92.72 478.09 L94.04 478.01 L95.36 477.92 L96.68 477.83 L98.00 477.73 L99.32 477.62 L100.64 477.50 L101.96 477.37 L103.28 477.23 L104.60 477.08 L105.92 476.92 L107.24 476.74 L108.56 476.55 L109.88 476.35 L111.20 476.13 L112.52 475.89 L113.84 475.63 L115.16 475.35 L116.48 475.05 L117.80 474.72 L119.12 474.37 L120.44 473.99 L121.76 473.58 L123.08 473.14 L124.40 472.67 L125.72 472.16 L127.04 471.62 L128.36 471.03 L129.68 470.40 L131.00 469.73 L132.32 469.01 L133.64 468.24 L134.96 467.41 L136.28 466.54 L137.60 465.60 L138.92 464.60 L140.24 463.54 L141.56 462.42 L142.88 461.23 L144.20 459.97 L145.52 458.64 L146.84 457.24 L148.16 455.77 L149.48 454.23 L150.80 452.61 L152.12 450.92 L153.44 449.16 L154.76 447.34 L156.08 445.44 L157.40 443.49 L158.72 441.47 L160.04 439.40 L161.36 437.27 L162.68 435.10 L164.00 432.89 L165.32 430.65 L166.64 428.39 L167.96 426.10 L169.28 423.80 L170.60 421.50 L171.92 419.20 L173.24 416.92 L174.56 414.65 L175.88 412.41 L177.20 410.20 L178.52 408.04 L179.84 405.91 L181.16 403.84 L182.48 401.83 L183.80 399.87 L185.12 397.98 L186.44 396.15 L187.76 394.40 L189.08 392.71 L190.40 391.10 L191.72 389.55 L193.04 388.08 L194.36 386.69 L195.68 385.36 L197.00 384.10 L198.32 382.91 L199.64 381.79 L200.96 380.73 L202.28 379.74 L203.60 378.80 L204.92 377.93 L206.24 377.10 L207.56 376.33" class="cv"/>
<path d="M207.50 405.50V449.50M204.50 405.50H210.50M204.50 449.50H210.50 M142.50 451.50V471.50M139.50 451.50H145.50M139.50 471.50H145.50 M175.50 396.50V431.50M172.50 396.50H178.50M172.50 431.50H178.50" class="eb"/>
<circle cx="76.70" cy="477.70" r="2.5" class="co"/>
<circle cx="109.60" cy="477.70" r="2.5" class="co"/>
<circle cx="142.40" cy="477.70" r="2.5" class="co"/>
<circle cx="175.10" cy="477.70" r="2.5" class="co"/>
<circle cx="207.30" cy="427.55" r="2.5" class="co"/>
<circle cx="76.70" cy="477.70" r="3.0" class="cf"/>
<circle cx="109.60" cy="477.70" r="3.0" class="cf"/>
<circle cx="142.40" cy="461.42" r="3.0" class="cf"/>
<circle cx="175.10" cy="414.21" r="3.0" class="cf"/>
<circle cx="207.30" cy="376.30" r="3.0" class="cf"/>
<text transform="translate(234.00 370.70)" class="pl">(H)</text>
<path d="M302.7 365.4V488.0M301.84999999999997 488.0H466.5" class="ax"/>
<text transform="translate(297.40 480.70) scale(0.95 1.0)" class="tl" text-anchor="end">0</text>
<text transform="translate(297.40 460.44) scale(0.95 1.0)" class="tl" text-anchor="end">20</text>
<text transform="translate(297.40 440.18) scale(0.95 1.0)" class="tl" text-anchor="end">40</text>
<text transform="translate(297.40 419.92) scale(0.95 1.0)" class="tl" text-anchor="end">60</text>
<text transform="translate(297.40 399.66) scale(0.95 1.0)" class="tl" text-anchor="end">80</text>
<text transform="translate(297.40 379.40) scale(0.95 1.0)" class="tl" text-anchor="end">100</text>
<text transform="translate(319.00 501.60) scale(0.95 1.0)" class="tl" text-anchor="middle">-7</text>
<text transform="translate(351.50 501.60) scale(0.95 1.0)" class="tl" text-anchor="middle">-6</text>
<text transform="translate(384.30 501.60) scale(0.95 1.0)" class="tl" text-anchor="middle">-5</text>
<text transform="translate(416.80 501.60) scale(0.95 1.0)" class="tl" text-anchor="middle">-4</text>
<text transform="translate(449.20 501.60) scale(0.95 1.0)" class="tl" text-anchor="middle">-3</text>
<path d="M298.30 477.70H302.7 M298.30 457.44H302.7 M298.30 437.18H302.7 M298.30 416.92H302.7 M298.30 396.66H302.7 M298.30 376.40H302.7 M319.00 488.0V493.00 M351.50 488.0V493.00 M384.30 488.0V493.00 M416.80 488.0V493.00 M449.20 488.0V493.00" class="tk"/>
<text transform="translate(340.80 514.20)" class="al">log [phenylephrine] M</text>
<text transform="translate(278.90 425.80) rotate(-90)" class="aly" text-anchor="middle">Area  Under the Curve (<tspan class="pc">%</tspan>)</text>
<g transform="translate(278.90 425.80) rotate(-90)" fill="none" stroke="#000" stroke-width="1.10"><ellipse cx="45.84" cy="-4.62" rx="1.14" ry="1.41"/><ellipse cx="49.53" cy="-1.54" rx="1.14" ry="1.41"/><path d="M45.26 0.09L50.10 -6.16"/></g>
<path d="M309.59999999999997 376.4H320.8M309.59999999999997 395.6H320.8" class="lg"/>
<circle cx="315.2" cy="376.4" r="3.0" class="cf"/>
<circle cx="315.2" cy="395.6" r="2.7" class="co"/>
<text transform="translate(327.00 379.10)" class="lt">Control</text>
<text transform="translate(327.00 392.90)" class="lt">Mirabegron</text>
<text transform="translate(327.00 404.00)" class="lt">(10 µM)</text>
<path d="M319.00 477.70 L351.50 477.70 L384.30 477.70 L416.80 477.70 L449.20 434.85" class="cv"/>
<path d="M319.02 479.32 L320.34 479.26 L321.65 479.20 L322.97 479.13 L324.28 479.06 L325.60 478.99 L326.92 478.90 L328.23 478.81 L329.55 478.72 L330.86 478.61 L332.18 478.50 L333.50 478.38 L334.81 478.25 L336.13 478.11 L337.44 477.96 L338.76 477.80 L340.08 477.62 L341.39 477.43 L342.71 477.23 L344.02 477.01 L345.34 476.78 L346.66 476.53 L347.97 476.26 L349.29 475.96 L350.60 475.65 L351.92 475.32 L353.23 474.96 L354.55 474.57 L355.87 474.16 L357.18 473.71 L358.50 473.24 L359.81 472.73 L361.13 472.19 L362.45 471.61 L363.76 470.99 L365.08 470.33 L366.39 469.63 L367.71 468.88 L369.03 468.08 L370.34 467.24 L371.66 466.34 L372.97 465.39 L374.29 464.38 L375.61 463.32 L376.92 462.20 L378.24 461.02 L379.55 459.77 L380.87 458.47 L382.19 457.10 L383.50 455.67 L384.82 454.17 L386.13 452.61 L387.45 450.99 L388.77 449.31 L390.08 447.57 L391.40 445.77 L392.71 443.92 L394.03 442.02 L395.35 440.07 L396.66 438.08 L397.98 436.05 L399.29 433.99 L400.61 431.90 L401.93 429.79 L403.24 427.66 L404.56 425.52 L405.87 423.38 L407.19 421.24 L408.51 419.11 L409.82 417.00 L411.14 414.91 L412.45 412.84 L413.77 410.81 L415.09 408.82 L416.40 406.86 L417.72 404.96 L419.03 403.10 L420.35 401.30 L421.66 399.55 L422.98 397.86 L424.30 396.24 L425.61 394.67 L426.93 393.17 L428.24 391.73 L429.56 390.36 L430.88 389.05 L432.19 387.80 L433.51 386.61 L434.82 385.48 L436.14 384.41 L437.46 383.40 L438.77 382.44 L440.09 381.54 L441.40 380.69 L442.72 379.89 L444.04 379.13 L445.35 378.43 L446.67 377.76 L447.98 377.14 L449.30 376.56" class="cv"/>
<path d="M449.50 419.50V450.50M446.50 419.50H452.50M446.50 450.50H452.50 M384.50 438.50V469.50M381.50 438.50H387.50M381.50 469.50H387.50 M416.50 378.50V434.50M413.50 378.50H419.50M413.50 434.50H419.50" class="eb"/>
<circle cx="319.00" cy="477.70" r="2.5" class="co"/>
<circle cx="351.50" cy="477.70" r="2.5" class="co"/>
<circle cx="384.30" cy="477.70" r="2.5" class="co"/>
<circle cx="416.80" cy="477.70" r="2.5" class="co"/>
<circle cx="449.20" cy="434.85" r="2.5" class="co"/>
<circle cx="319.00" cy="477.70" r="3.0" class="cf"/>
<circle cx="351.50" cy="477.70" r="3.0" class="cf"/>
<circle cx="384.30" cy="454.00" r="3.0" class="cf"/>
<circle cx="416.80" cy="406.79" r="3.0" class="cf"/>
<circle cx="449.20" cy="376.40" r="3.0" class="cf"/>
<text transform="translate(470.00 18.50)" class="pl">(C)</text>
<path d="M552.0 10.90V135.0M547.00 135.0H673.5" class="ax"/>
<text transform="translate(545.00 138.50)" class="tlb" text-anchor="end">0.0</text>
<text transform="translate(545.00 113.80)" class="tlb" text-anchor="end">0.5</text>
<text transform="translate(545.00 89.10)" class="tlb" text-anchor="end">1.0</text>
<text transform="translate(545.00 64.40)" class="tlb" text-anchor="end">1.5</text>
<text transform="translate(545.00 39.70)" class="tlb" text-anchor="end">2.0</text>
<text transform="translate(545.00 15.00)" class="tlb" text-anchor="end">2.5</text>
<path d="M547.00 135.00H552.0 M547.00 110.30H552.0 M547.00 85.60H552.0 M547.00 60.90H552.0 M547.00 36.20H552.0 M547.00 11.50H552.0 M586.60 135.0V137.6 M638.65 135.0V137.6" class="tk"/>
<text transform="translate(526.60 73.10) rotate(-90)" class="alb" text-anchor="middle">Max amplitude (N / g)</text>
<path d="M570.0 135.0V46.4H603.2V135.0" class="bar"/>
<path d="M586.5 34.5V56.5M577.9 34.5H595.1M577.9 56.5H595.1" class="eb"/>
<circle cx="571.6" cy="38.8" r="2.6" class="cf"/>
<circle cx="581.6" cy="42.0" r="2.6" class="cf"/>
<circle cx="591.5" cy="39.5" r="2.6" class="cf"/>
<circle cx="591.5" cy="44.3" r="2.6" class="cf"/>
<circle cx="601.3" cy="41.2" r="2.6" class="cf"/>
<circle cx="586.4" cy="66.6" r="2.6" class="cf"/>
<path d="M622.3 135.0V49.2H655.0V135.0" class="bar"/>
<path d="M638.5 38.5V57.5M629.9 38.5H647.1M629.9 57.5H647.1" class="eb"/>
<circle cx="633.3" cy="39.5" r="2.5" class="co"/>
<circle cx="643.4" cy="38.6" r="2.5" class="co"/>
<circle cx="643.4" cy="45.4" r="2.5" class="co"/>
<circle cx="633.3" cy="48.4" r="2.5" class="co"/>
<circle cx="638.3" cy="55.2" r="2.5" class="co"/>
<circle cx="638.3" cy="62.8" r="2.5" class="co"/>
<text transform="translate(586.30 146.90)" class="bl" text-anchor="middle">Control</text>
<text transform="translate(638.40 146.90)" class="bl" text-anchor="middle">Mirabegron</text>
<text transform="translate(638.40 157.70)" class="bl" text-anchor="middle">(100 nM)</text>
<text transform="translate(471.50 199.90)" class="pl">(F)</text>
<path d="M553.0 189.50V313.1M548.00 313.1H674.2" class="ax"/>
<text transform="translate(546.00 316.60)" class="tlb" text-anchor="end">0.0</text>
<text transform="translate(546.00 292.00)" class="tlb" text-anchor="end">0.5</text>
<text transform="translate(546.00 267.40)" class="tlb" text-anchor="end">1.0</text>
<text transform="translate(546.00 242.80)" class="tlb" text-anchor="end">1.5</text>
<text transform="translate(546.00 218.20)" class="tlb" text-anchor="end">2.0</text>
<text transform="translate(546.00 193.60)" class="tlb" text-anchor="end">2.5</text>
<path d="M548.00 313.10H553.0 M548.00 288.50H553.0 M548.00 263.90H553.0 M548.00 239.30H553.0 M548.00 214.70H553.0 M548.00 190.10H553.0 M586.95 313.1V315.70000000000005 M639.50 313.1V315.70000000000005" class="tk"/>
<text transform="translate(527.00 251.00) rotate(-90)" class="alb" text-anchor="middle">Max amplitude (N / g)</text>
<path d="M570.5 313.1V228.4H603.4V313.1" class="bar"/>
<path d="M587.5 211.5V243.5M578.9 211.5H596.1M578.9 243.5H596.1" class="eb"/>
<circle cx="581.9" cy="215.6" r="2.6" class="cf"/>
<circle cx="592.0" cy="215.6" r="2.6" class="cf"/>
<circle cx="592.0" cy="210.7" r="2.6" class="cf"/>
<circle cx="581.9" cy="237.8" r="2.6" class="cf"/>
<circle cx="592.0" cy="238.2" r="2.6" class="cf"/>
<circle cx="587.3" cy="248.3" r="2.6" class="cf"/>
<path d="M623.5 313.1V249.2H655.5V313.1" class="bar"/>
<path d="M639.5 225.5V271.5M630.9 225.5H648.1M630.9 271.5H648.1" class="eb"/>
<circle cx="639.1" cy="219.2" r="2.5" class="co"/>
<circle cx="639.1" cy="227.9" r="2.5" class="co"/>
<circle cx="639.1" cy="241.7" r="2.5" class="co"/>
<circle cx="639.1" cy="254.7" r="2.5" class="co"/>
<circle cx="633.8" cy="274.9" r="2.5" class="co"/>
<circle cx="644.4" cy="273.1" r="2.5" class="co"/>
<text transform="translate(587.00 324.60)" class="bl" text-anchor="middle">Control</text>
<text transform="translate(638.90 324.60)" class="bl" text-anchor="middle">Mirabegron</text>
<text transform="translate(638.90 336.20)" class="bl" text-anchor="middle">(1µM)</text>
<text transform="translate(480.00 372.70)" class="pl">(I)</text>
<path d="M550.8 366.30V489.6M545.80 489.6H672.3" class="ax"/>
<text transform="translate(543.80 493.10)" class="tlb" text-anchor="end">0.0</text>
<text transform="translate(543.80 468.56)" class="tlb" text-anchor="end">0.5</text>
<text transform="translate(543.80 444.02)" class="tlb" text-anchor="end">1.0</text>
<text transform="translate(543.80 419.48)" class="tlb" text-anchor="end">1.5</text>
<text transform="translate(543.80 394.94)" class="tlb" text-anchor="end">2.0</text>
<text transform="translate(543.80 370.40)" class="tlb" text-anchor="end">2.5</text>
<path d="M545.80 489.60H550.8 M545.80 465.06H550.8 M545.80 440.52H550.8 M545.80 415.98H550.8 M545.80 391.44H550.8 M545.80 366.90H550.8 M585.40 489.6V492.20000000000005 M637.25 489.6V492.20000000000005" class="tk"/>
<text transform="translate(525.60 427.50) rotate(-90)" class="alb" text-anchor="middle">Max amplitude (N / g)</text>
<path d="M568.9 489.6V396.2H601.9V489.6" class="bar"/>
<path d="M585.5 386.5V403.5M576.9 386.5H594.1M576.9 403.5H594.1" class="eb"/>
<circle cx="585" cy="380.4" r="2.6" class="cf"/>
<circle cx="585" cy="387.1" r="2.6" class="cf"/>
<circle cx="585" cy="394.0" r="2.6" class="cf"/>
<circle cx="585" cy="400.3" r="2.6" class="cf"/>
<circle cx="575.3" cy="403.7" r="2.6" class="cf"/>
<circle cx="595" cy="403.7" r="2.6" class="cf"/>
<circle cx="595" cy="397.3" r="2.6" class="cf"/>
<path d="M620.5 489.6V446.7H654.0V489.6" class="bar"/>
<path d="M637.5 438.5V453.5M628.9 438.5H646.1M628.9 453.5H646.1" class="eb"/>
<circle cx="637" cy="429" r="2.5" class="co"/>
<circle cx="631.9" cy="446.7" r="2.5" class="co"/>
<circle cx="642" cy="443.8" r="2.5" class="co"/>
<circle cx="642" cy="450.1" r="2.5" class="co"/>
<circle cx="622" cy="447.6" r="2.5" class="co"/>
<circle cx="622" cy="453.4" r="2.5" class="co"/>
<circle cx="651.7" cy="448.1" r="2.5" class="co"/>
<text transform="translate(585.00 501.80)" class="bl" text-anchor="middle">Control</text>
<text transform="translate(637.00 501.80)" class="bl" text-anchor="middle">Mirabegron</text>
<text transform="translate(637.00 512.70)" class="bl" text-anchor="middle">(10 µM)</text>
<polygon points="632.40,416.70 632.96,417.93 634.30,418.08 633.30,418.99 633.58,420.32 632.40,419.65 631.22,420.32 631.50,418.99 630.50,418.08 631.84,417.93" fill="#000" stroke="#000" stroke-width="0.5" stroke-linejoin="round"/>
<polygon points="636.90,416.70 637.46,417.93 638.80,418.08 637.80,418.99 638.08,420.32 636.90,419.65 635.72,420.32 636.00,418.99 635.00,418.08 636.34,417.93" fill="#000" stroke="#000" stroke-width="0.5" stroke-linejoin="round"/>
<polygon points="641.40,416.70 641.96,417.93 643.30,418.08 642.30,418.99 642.58,420.32 641.40,419.65 640.22,420.32 640.50,418.99 639.50,418.08 640.84,417.93" fill="#000" stroke="#000" stroke-width="0.5" stroke-linejoin="round"/>
</svg>
</body></html>
